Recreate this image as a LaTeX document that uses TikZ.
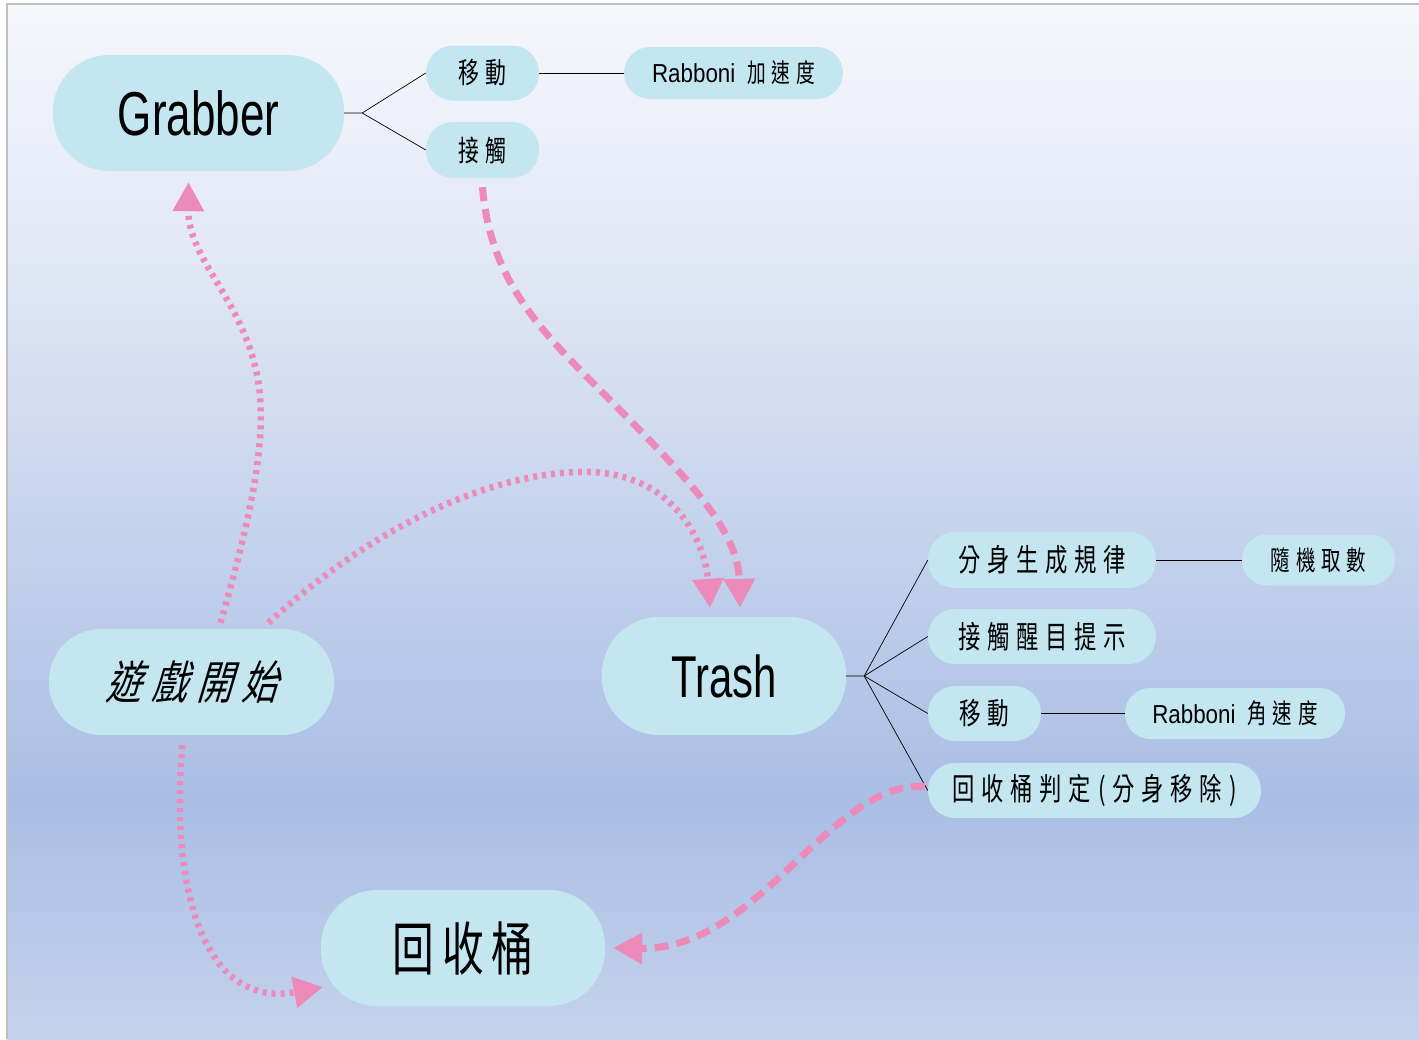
\documentclass[tikz,border=0pt]{standalone}
\usepackage{fontspec}
\setmainfont{Liberation Sans}
\newfontfamily\latbig{Liberation Sans}[FakeStretch=0.71]
\newfontfamily\latsm{Liberation Sans}[FakeStretch=0.86]
\newfontfamily\cjk{Noto Sans CJK TC}[FakeStretch=0.72, LetterSpace=22]
\newfontfamily\cjkb{Noto Sans CJK TC}[FakeStretch=0.72, LetterSpace=14]
\newfontfamily\cjki{Noto Sans CJK TC}[FakeStretch=0.78, FakeSlant=0.3, LetterSpace=20]
\usetikzlibrary{arrows.meta}
\newcommand\setfs[1]{\fontsize{#1}{#1}\selectfont}
\definecolor{nodefill}{RGB}{196,230,240}
\definecolor{pk}{RGB}{236,139,186}
\definecolor{bgA}{RGB}{196,210,236}
\definecolor{bgB}{RGB}{170,190,228}
\definecolor{bgC}{RGB}{200,213,238}
\definecolor{bgD}{RGB}{226,232,245}
\definecolor{bgE}{RGB}{246,247,252}
\definecolor{frame}{RGB}{192,192,192}
\pgfdeclareverticalshading{bgshade}{100bp}{color(0bp)=(bgA); color(25bp)=(bgA); color(36.5bp)=(bgB); color(51bp)=(bgC); color(63bp)=(bgD); color(75bp)=(bgE); color(100bp)=(bgE)}
\begin{document}
\begin{tikzpicture}[x=1pt,y=-1pt,
  box/.style={fill=nodefill, inner sep=0pt, rounded corners=#1},
  link/.style={draw=black, line width=0.7pt},
  pdot/.style={draw=pk, line width=6.5pt, dash pattern=on 4pt off 5pt, -{Triangle[length=29pt,width=30pt]}},
  pdash/.style={draw=pk, line width=7pt, dash pattern=on 14pt off 8pt, -{Triangle[length=29pt,width=30pt]}}]
\useasboundingbox (0,0) rectangle (1419,1039);
\fill[white] (0,0) rectangle (1419,1039);
\shade[shading=bgshade] (7,4) rectangle (1419,1039);
\draw[frame, line width=2pt] (7,1039) -- (7,4) -- (1419,4);

% nodes
\node[box=56, minimum width=291pt, minimum height=116pt] (grab) at (198.5,113) {\latbig\setfs{62}Grabber};
\node[box=27, minimum width=113pt, minimum height=55pt] (gmove) at (482.5,73) {\cjk\setfs{29}移動};
\node[box=27, minimum width=113pt, minimum height=56pt] (gtouch) at (482.5,150) {\cjk\setfs{29}接觸};
\node[box=26, minimum width=219pt, minimum height=52pt] (gacc) at (733.5,73) {\latsm\setfs{26}Rabboni\hspace{12pt}{\cjk\setfs{26}加速度}};
\node[box=57, minimum width=244pt, minimum height=118pt] (trash) at (724,676) {\latbig\setfs{59}Trash};
\node[box=27, minimum width=228pt, minimum height=56pt] (split) at (1042,560) {\cjk\setfs{31}分身生成規律};
\node[box=25, minimum width=153pt, minimum height=51pt] (rand) at (1318.5,560) {\cjk\setfs{27}隨機取數};
\node[box=27, minimum width=228pt, minimum height=55pt] (hint) at (1042,636.5) {\cjk\setfs{31}接觸醒目提示};
\node[box=27, minimum width=113pt, minimum height=55pt] (tmove) at (984.5,713.5) {\cjk\setfs{30}移動};
\node[box=25, minimum width=220pt, minimum height=51pt] (tang) at (1235,713.5) {\latsm\setfs{26}Rabboni\hspace{12pt}{\cjk\setfs{27}角速度}};
\node[box=27, minimum width=333pt, minimum height=55pt] (judge) at (1094.5,790.5) {\cjk\setfs{31}回收桶判定(分身移除)};
\node[box=52, minimum width=285pt, minimum height=106pt] (start) at (191.5,682) {\cjki\setfs{46}遊戲開始};
\node[box=56, minimum width=284pt, minimum height=116pt] (bin) at (463,948) {\cjkb\setfs{58}回收桶};

% black tree connectors
\draw[link] (grab.east) -- ++(18,0) coordinate (gf) -- (gmove.west);
\draw[link] (gf) -- (gtouch.west);
\draw[link] (gmove.east) -- (gacc.west);
\draw[link] (trash.east) -- ++(18,0) coordinate (tf) -- (split.west);
\draw[link] (tf) -- (hint.west);
\draw[link] (tf) -- (tmove.west);
\draw[link] (tf) -- (judge.west);
\draw[link] (split.east) -- (rand.west);
\draw[link] (tmove.east) -- (tang.west);

% pink arrows
\draw[pdot] ([shift={(29,-6)}]start.north) .. controls (250,520) and (268,440) .. (258,380) .. controls (244,300) and (188,260) .. ([shift={(-10,11)}]grab.south);
\draw[pdot] ([shift={(77,-6)}]start.north) .. controls (380,520) and (500,470) .. (590,472) .. controls (680,475) and (706,550) .. ([shift={(-14,-9)}]trash.north);
\draw[pdash] ([shift={(0,9)}]gtouch.south) .. controls (490,280) and (540,330) .. (600,390) .. controls (690,480) and (738,530) .. ([shift={(16,-9)}]trash.north);
\draw[pdot] ([shift={(-9,10)}]start.south) .. controls (170,880) and (200,1010) .. ([shift={(2,39)}]bin.west);
\draw[pdash] ([shift={(-3,-4)}]judge.west) .. controls (830,780) and (760,950) .. ([xshift=8pt]bin.east);
\end{tikzpicture}
\end{document}
